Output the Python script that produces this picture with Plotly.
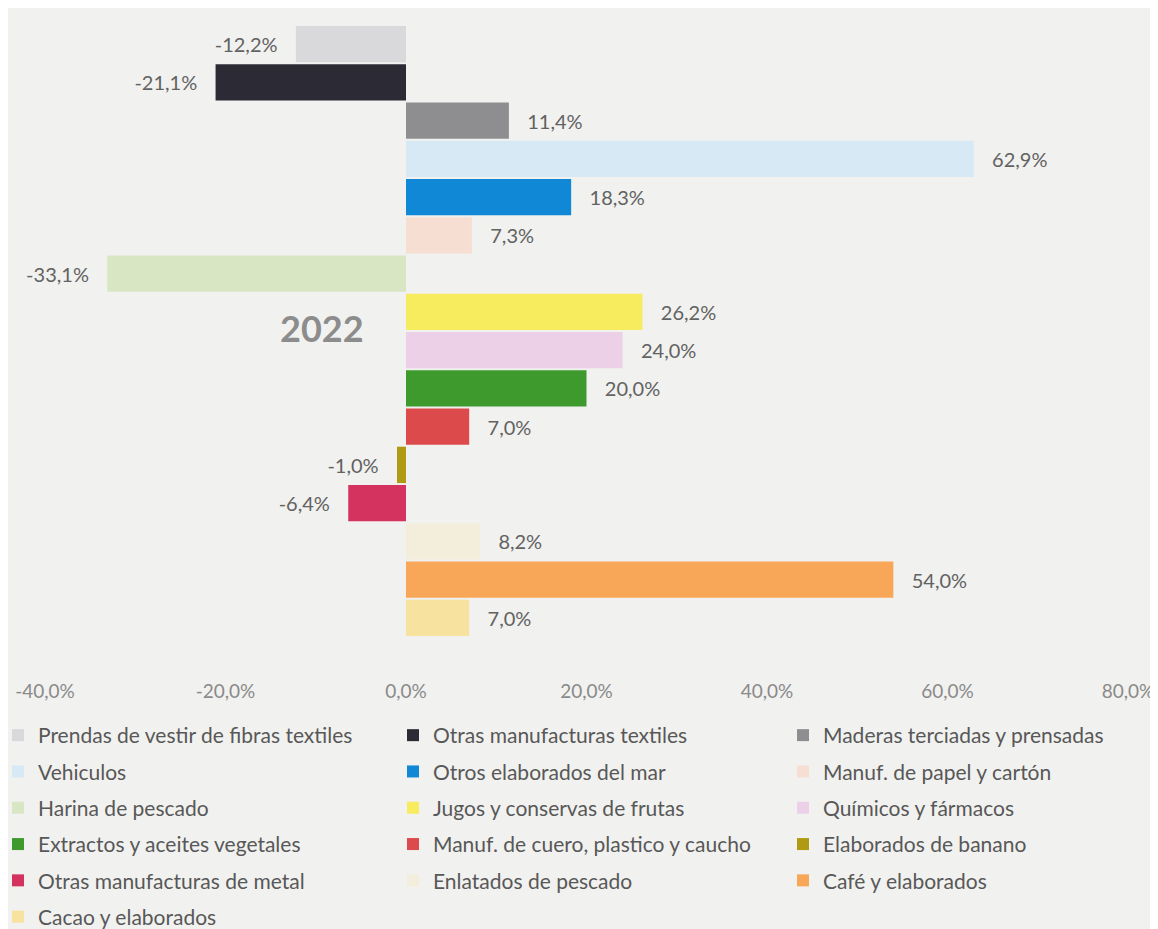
import plotly.graph_objects as go

categories = [
    "Prendas de vestir de fibras textiles",
    "Otras manufacturas textiles",
    "Maderas terciadas y prensadas",
    "Vehiculos",
    "Otros elaborados del mar",
    "Manuf. de papel y cartón",
    "Harina de pescado",
    "Jugos y conservas de frutas",
    "Químicos y fármacos",
    "Extractos y aceites vegetales",
    "Manuf. de cuero, plastico y caucho",
    "Elaborados de banano",
    "Otras manufacturas de metal",
    "Enlatados de pescado",
    "Café y elaborados",
    "Cacao y elaborados",
]
values = [-12.2, -21.1, 11.4, 62.9, 18.3, 7.3, -33.1, 26.2, 24.0, 20.0, 7.0, -1.0, -6.4, 8.2, 54.0, 7.0]
colors = [
    "#d9d9db", "#2b2a35", "#8e8e91", "#d6e9f5", "#1188d6", "#f7ded2",
    "#d9e6c4", "#f7ec5e", "#ecd0e8", "#3f9a2e", "#dc4a4b", "#b09a14",
    "#d43360", "#f3eedb", "#f8a657", "#f8e2a0",
]
x_ticks = [-40, -20, 0, 20, 40, 60, 80]
x_tick_labels = ["-40,0%", "-20,0%", "0,0%", "20,0%", "40,0%", "60,0%", "80,0%"]
year_label = "2022"

FONT = "Lato"
# page has an 8px body margin: figure is drawn from (8, 8)
W, H = 1150, 921
ML, MR, MT, MB = 37, 30, 17, 292
plot_w = W - ML - MR
plot_h = H - MT - MB

fig = go.Figure()
nb = "\u00a0"
for i, (cat, val, col) in enumerate(zip(categories, values, colors)):
    col_idx = i % 3
    leg_name = "legend" if col_idx == 0 else f"legend{col_idx + 1}"
    tt = (nb * 3 + "%{x:.1f}%") if val >= 0 else ("%{x:.1f}%" + nb * 3)
    fig.add_trace(go.Bar(
        y=[cat], x=[val], orientation="h", name=cat,
        marker=dict(color=col, line=dict(width=0)),
        texttemplate=tt, textposition="outside",
        textfont=dict(family=FONT, size=20, color="#626262"),
        cliponaxis=False,
        legend=leg_name, legendgroup=f"g{i}",
        hoverinfo="x+name",
    ))

col_text_px = [30, 425, 815]
legend_top_px = 707
legends = {}
for k, tx in enumerate(col_text_px):
    key = "legend" if k == 0 else f"legend{k + 1}"
    legends[key] = dict(
        orientation="v",
        x=(tx - 40 - ML) / plot_w, xanchor="left",
        y=(H - MB - legend_top_px) / plot_h, yanchor="top",
        tracegroupgap=6,
        traceorder="grouped",
        font=dict(family=FONT, size=21, color="#585858"),
        bgcolor="rgba(0,0,0,0)",
    )

fig.update_layout(
    width=W, height=H,
    margin=dict(l=ML, r=MR, t=MT, b=MB, autoexpand=False),
    paper_bgcolor="#f1f1ef",
    plot_bgcolor="#f1f1ef",
    barmode="relative",
    bargap=0.05,
    separators=",.",
    showlegend=True,
    **legends,
    xaxis=dict(
        range=[-40, 80], tickvals=x_ticks, ticktext=x_tick_labels,
        showgrid=False, zeroline=False, showline=False, ticks="",
        tickfont=dict(family=FONT, size=19, color="#8a8a8a"),
        ticklabelstandoff=41,
    ),
    yaxis=dict(
        type="category", categoryorder="array", categoryarray=categories,
        autorange="reversed", showticklabels=False, showgrid=False,
        zeroline=False, showline=False, ticks="",
    ),
    annotations=[dict(
        text=f"<b>{year_label}</b>", x=-9.3, y=7.42, xref="x", yref="y",
        showarrow=False, font=dict(family=FONT, size=36, color="#8c8c8c"),
    )],
)

fig.write_html("out.html")
